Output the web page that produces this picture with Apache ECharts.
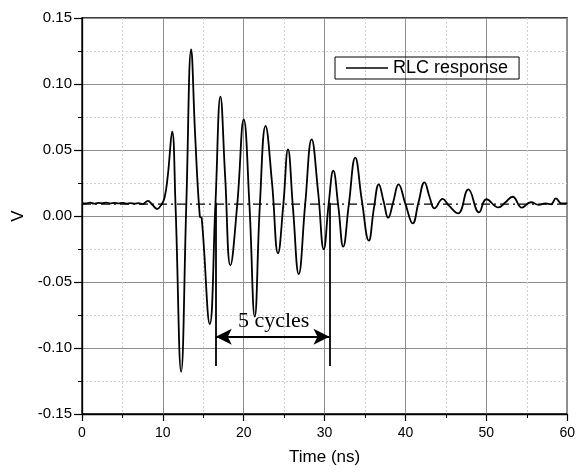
<!DOCTYPE html>
<html>
<head>
<meta charset="utf-8">
<script src="https://cdn.jsdelivr.net/npm/echarts@6/dist/echarts.min.js"></script>
<style>html,body{margin:0;padding:0;background:#fff}#c{width:578px;height:472px}</style>
</head>
<body>
<div id="c"></div>
<script>
// Measured waveform (time in ns, voltage in V)
const timeNs = [0,0.5,1,1.5,2,2.5,3,3.5,4,4.5,5,5.5,6,6.5,7,7.5,8.15,8.7,9.3,9.8,10.2,10.6,11.15,11.56,12.26,12.9,13.5,14.0,14.57,14.8,15.8,16.5,17.12,17.7,18.35,19.2,20.0,20.7,21.36,22.0,22.7,23.5,24.24,24.9,25.47,26.1,26.8,27.6,28.4,29.2,29.9,30.5,31.07,31.7,32.3,33.0,33.79,34.6,35.47,36.1,36.7,37.3,37.86,38.5,39.14,40.0,40.9,41.6,42.35,43.0,43.58,44.6,45.4,46.5,47.78,49.1,50.0,51.5,52.3,53.25,54.4,55.5,56.5,57.3,58.0,58.6,59.3,60];
const voltage = [0.0098,0.0096,0.0101,0.0094,0.0099,0.0097,0.0102,0.0095,0.0099,0.0096,0.0100,0.0094,0.0098,0.0093,0.0097,0.0090,0.0114,0.0085,0.0053,0.0085,0.0136,0.030,0.0639,0.009,-0.118,0.009,0.1263,0.060,-0.0005,-0.0015,-0.0818,0.009,0.0904,0.030,-0.0374,0.009,0.0732,0.009,-0.0763,0.009,0.0682,0.025,-0.0283,0.009,0.0505,0.005,-0.044,0.009,0.058,0.018,-0.0252,0.009,0.0343,0.007,-0.0232,0.009,0.0442,0.012,-0.0187,0.006,0.024,0.011,-0.0013,0.011,0.024,0.009,-0.0056,0.010,0.0255,0.014,0.0058,0.0129,0.0076,0.002,0.0202,0.0028,0.0127,0.0065,0.010,0.0146,0.0064,0.0104,0.0085,0.0095,0.0089,0.0134,0.0095,0.0096];
const baselineLevel = 0.009;
const cycleMarks = [16.54, 30.6];      // vertical marker lines (ns)
const markTop = 0.010, markBottom = -0.1136, arrowLevel = -0.0915;
const annotationText = '5 cycles';
const annotationPos = [23.7, -0.0795];
const seriesName = 'RLC response';

const waveData = timeNs.map((t, i) => [t, voltage[i]]);

const chart = echarts.init(document.getElementById('c'), null, {renderer: 'canvas'});
const sans = 'Liberation Sans, Arial, sans-serif';

chart.setOption({
  animation: false,
  backgroundColor: '#fff',
  grid: {left: 82, right: 10, top: 18, bottom: 58, show: true, borderColor: '#000', borderWidth: 1.3},
  legend: {
    data: [{name: seriesName, icon: 'rect'}], left: 335, top: 57, orient: 'horizontal',
    borderColor: '#000', borderWidth: 1, borderRadius: 0, padding: [2, 11, 2, 11],
    itemWidth: 42, itemHeight: 1.5, itemGap: 5,
    itemStyle: {color: '#000', borderWidth: 0},
    textStyle: {fontFamily: sans, fontSize: 18, color: '#000'}
  },
  xAxis: {
    type: 'value', min: 0, max: 60, interval: 10,
    name: 'Time (ns)', nameLocation: 'middle', nameGap: 35,
    nameTextStyle: {fontFamily: sans, fontSize: 17, color: '#000'},
    axisLine: {show: true, onZero: false, lineStyle: {color: '#000', width: 1.3}},
    axisTick: {show: true, length: 7, lineStyle: {color: '#000', width: 1.2}},
    minorTick: {show: true, splitNumber: 2, length: 4, lineStyle: {color: '#000', width: 1}},
    axisLabel: {margin: 12, fontFamily: sans, fontSize: 14, color: '#000'},
    splitLine: {show: true, lineStyle: {color: '#8c8c8c', width: 1}},
    minorSplitLine: {show: true, lineStyle: {color: '#cfcfcf', width: 1, type: [2, 2]}}
  },
  yAxis: {
    type: 'value', min: -0.15, max: 0.15, interval: 0.05,
    name: 'V', nameLocation: 'middle', nameGap: 55,
    nameTextStyle: {fontFamily: sans, fontSize: 17, color: '#000'},
    axisLine: {show: true, onZero: false, lineStyle: {color: '#000', width: 1.3}},
    axisTick: {show: true, length: 8, lineStyle: {color: '#000', width: 1.2}},
    minorTick: {show: true, splitNumber: 2, length: 4, lineStyle: {color: '#000', width: 1}},
    axisLabel: {margin: 10, formatter: v => v.toFixed(2), fontFamily: sans, fontSize: 15, color: '#000'},
    splitLine: {show: true, lineStyle: {color: '#8c8c8c', width: 1}},
    minorSplitLine: {show: true, lineStyle: {color: '#cfcfcf', width: 1, type: [2, 2]}}
  },
  series: [
    {
      name: 'baseline', type: 'line', symbol: 'none', silent: true,
      data: [[0, baselineLevel], [60, baselineLevel]],
      lineStyle: {color: '#000', width: 1.3, type: [9, 4, 2, 4]},
      z: 2
    },
    {
      name: seriesName, type: 'line', symbol: 'none', smooth: 0.45,
      data: waveData,
      lineStyle: {color: '#000', width: 1.8},
      itemStyle: {color: '#000'},
      z: 3,
      markLine: {
        silent: true, animation: false,
        symbol: 'none',
        label: {show: false},
        lineStyle: {color: '#000', width: 1.8, type: 'solid'},
        data: [
          [{coord: [cycleMarks[0], markTop]}, {coord: [cycleMarks[0], markBottom]}],
          [{coord: [cycleMarks[1], markTop]}, {coord: [cycleMarks[1], markBottom]}],
          [{coord: [cycleMarks[0], arrowLevel], symbol: 'arrow', symbolSize: [12, 16]},
           {coord: [cycleMarks[1], arrowLevel], symbol: 'arrow', symbolSize: [12, 16]}]
        ]
      },
      markPoint: {
        silent: true, symbol: 'rect', symbolSize: 1, itemStyle: {color: 'rgba(0,0,0,0)'},
        label: {show: true, position: 'inside', formatter: annotationText,
          fontFamily: 'Liberation Serif, Times New Roman, serif', fontSize: 22, color: '#000'},
        data: [{coord: annotationPos}]
      }
    }
  ]
});
</script>
</body>
</html>
